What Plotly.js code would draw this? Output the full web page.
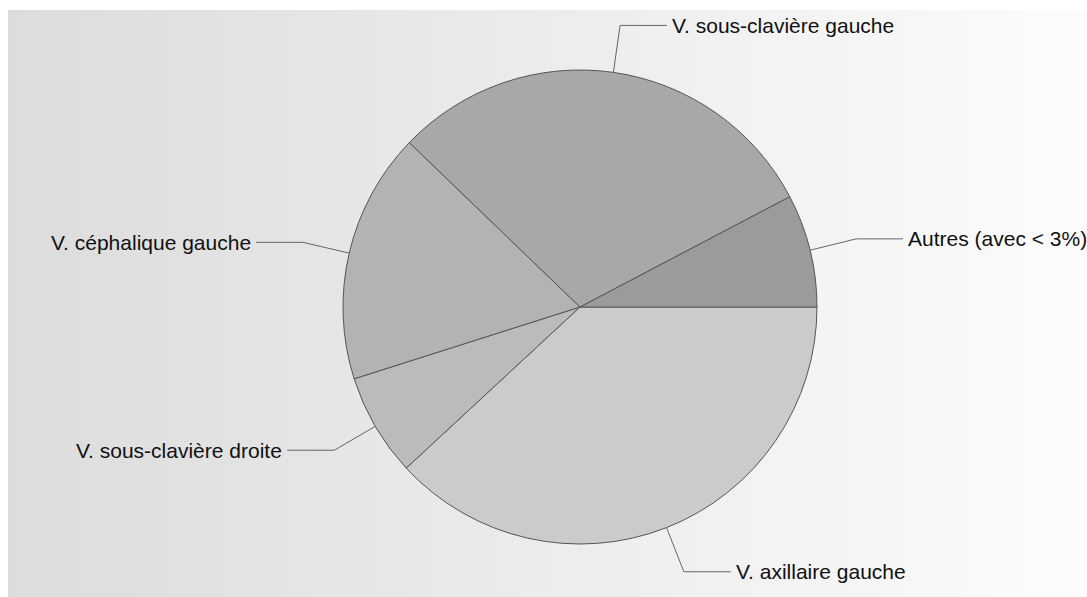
<!DOCTYPE html>
<html>
<head>
<meta charset="utf-8">
<script src="https://cdn.plot.ly/plotly-3.0.1.min.js"></script>
<style>
  html, body { margin: 0; padding: 0; background: #ffffff; }
  #chart {
    width: 1087px; height: 597px;
    background-image: linear-gradient(to right, #dcdcdc, #fcfcfc);
    background-repeat: no-repeat;
    background-position: 8px 10px;
    background-size: 1079px 587px;
  }
</style>
</head>
<body>
<div id="chart"></div>
<script>
// Data (share of each vein, %), in clockwise order starting at 3 o'clock
const labels = ["V. axillaire gauche", "V. sous-clavière droite", "V. céphalique gauche", "V. sous-clavière gauche", "Autres (avec < 3%)"];
const values = [38.1, 7.0, 17.1, 30.1, 7.7];
const colors = ["#cbcbcb", "#bbbbbb", "#b3b3b3", "#a8a8a8", "#9b9b9b"];

// Layout constants (pixels)
const W = 1087, H = 597;
const CX = 580, CY = 307, R = 237;
const ELBOW = 1.2, HLEN = 47, GAP = 3;

const px = x => x / W;
const py = y => 1 - y / H;

const total = values.reduce((a, b) => a + b, 0);
const shapes = [];
const annotations = [];
let cum = 0;
values.forEach((v, i) => {
  const mid = (cum + v / 2) / total * 2 * Math.PI; // clockwise from 3 o'clock
  cum += v;
  const c = Math.cos(mid), s = Math.sin(mid);
  const x0 = CX + R * c, y0 = CY + R * s;
  const x1 = CX + R * ELBOW * c, y1 = CY + R * ELBOW * s;
  const right = c >= 0;
  const x2 = x1 + (right ? HLEN : -HLEN);
  shapes.push({
    type: "path", xref: "paper", yref: "paper",
    path: `M ${px(x0)} ${py(y0)} L ${px(x1)} ${py(y1)} L ${px(x2)} ${py(y1)}`,
    line: { color: "#666666", width: 1 }
  });
  annotations.push({
    xref: "paper", yref: "paper",
    x: px(x2 + (right ? GAP : -GAP)), y: py(y1),
    xanchor: right ? "left" : "right", yanchor: "middle",
    text: labels[i], showarrow: false,
    font: { family: "Liberation Sans, Arial, sans-serif", size: 21, color: "#111111" }
  });
});

const trace = {
  type: "pie",
  labels: labels,
  values: values,
  sort: false,
  direction: "clockwise",
  rotation: 90,
  textinfo: "none",
  hoverinfo: "label+percent",
  marker: { colors: colors, line: { color: "#555555", width: 1 } },
  domain: { x: [px(CX - R), px(CX + R)], y: [py(CY + R), py(CY - R)] },
  showlegend: false
};

Plotly.newPlot("chart", [trace], {
  width: W, height: H,
  margin: { l: 0, r: 0, t: 0, b: 0 },
  paper_bgcolor: "rgba(0,0,0,0)",
  plot_bgcolor: "rgba(0,0,0,0)",
  showlegend: false,
  shapes: shapes,
  annotations: annotations
}, { displayModeBar: false, staticPlot: true });
</script>
</body>
</html>
